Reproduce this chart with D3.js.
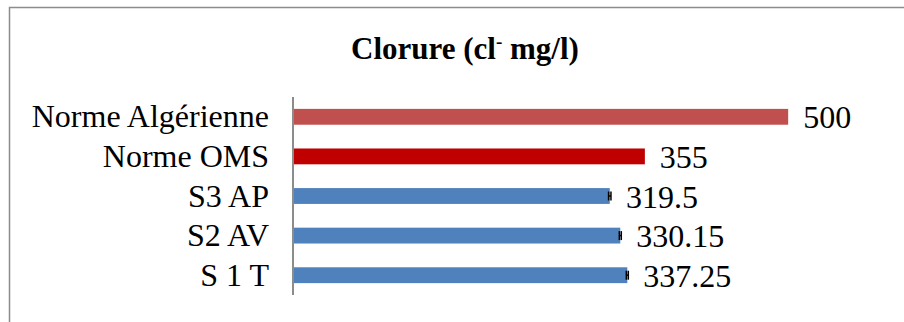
<!DOCTYPE html>
<html>
<head>
<meta charset="utf-8">
<script src="https://cdn.jsdelivr.net/npm/d3@7"></script>
<style>
  html, body { margin: 0; padding: 0; background: #fff; }
  svg { display: block; }
</style>
</head>
<body>
<svg id="chart" width="904" height="322"></svg>
<script>
// Chloride concentration per sample, with the two reference norms
const categories = ["Norme Algérienne", "Norme OMS", "S3 AP", "S2 AV", "S 1 T"];
const values = [500, 355, 319.5, 330.15, 337.25];
const errors = [0, 0, 1.2, 1.0, 1.0];
const colors = ["#C0504D", "#C00000", "#4F81BD", "#4F81BD", "#4F81BD"];
const valueLabels = ["500", "355", "319.5", "330.15", "337.25"];

const SERIF = "'Liberation Serif', 'Times New Roman', serif";
const svg = d3.select("#chart");

// chart frame
svg.append("rect")
  .attr("x", 9.5).attr("y", 7.5)
  .attr("width", 1000).attr("height", 400)
  .attr("fill", "none")
  .attr("stroke", "#8c8c8c")
  .attr("stroke-width", 1.5);

// title
const title = svg.append("text")
  .attr("x", 465).attr("y", 59)
  .attr("text-anchor", "middle")
  .style("font-family", SERIF)
  .style("font-size", "31px")
  .style("font-weight", "bold")
  .style("fill", "#000");
title.append("tspan").text("Clorure (cl");
title.append("tspan").attr("dy", -11).style("font-size", "19px").text("-");
title.append("tspan").attr("dy", 11).text(" mg/l)");

const x = d3.scaleLinear().domain([0, 600]).range([294, 887]);
const y = d3.scaleBand().domain(categories).range([97, 295])
  .paddingInner(0.6).paddingOuter(0.3);

const rows = categories.map((c, i) => ({ c, v: values[i], e: errors[i], col: colors[i], lab: valueLabels[i] }));

// bars
svg.append("g").selectAll("rect")
  .data(rows).join("rect")
  .attr("x", x(0))
  .attr("y", d => y(d.c))
  .attr("width", d => x(d.v) - x(0))
  .attr("height", y.bandwidth())
  .attr("fill", d => d.col);

// error bars
const eb = svg.append("g").attr("stroke", "#000").attr("stroke-width", 1.5);
rows.filter(d => d.e > 0).forEach(d => {
  const cy = y(d.c) + y.bandwidth() / 2;
  eb.append("line").attr("x1", x(d.v - d.e)).attr("x2", x(d.v + d.e)).attr("y1", cy).attr("y2", cy);
  eb.append("line").attr("x1", x(d.v - d.e)).attr("x2", x(d.v - d.e)).attr("y1", cy - 4.5).attr("y2", cy + 4.5);
  eb.append("line").attr("x1", x(d.v + d.e)).attr("x2", x(d.v + d.e)).attr("y1", cy - 4.5).attr("y2", cy + 4.5);
});

// category axis
const axis = svg.append("g")
  .attr("transform", `translate(${x(0) - 1},0)`)
  .call(d3.axisLeft(y).tickSize(0).tickPadding(24));
axis.select(".domain").attr("stroke", "#8c8c8c").attr("stroke-width", 2)
  .attr("d", "M0,97V295");
axis.selectAll("text")
  .attr("font-family", null)
  .style("font-family", SERIF)
  .style("font-size", "32px")
  .style("fill", "#000")
  .attr("dy", "0.33em");

// value labels
svg.append("g").selectAll("text")
  .data(rows).join("text")
  .attr("x", d => x(d.v + d.e) + 15)
  .attr("y", d => y(d.c) + y.bandwidth() / 2)
  .attr("dy", "0.36em")
  .style("font-family", SERIF)
  .style("font-size", "32px")
  .style("fill", "#000")
  .text(d => d.lab);
</script>
</body>
</html>
